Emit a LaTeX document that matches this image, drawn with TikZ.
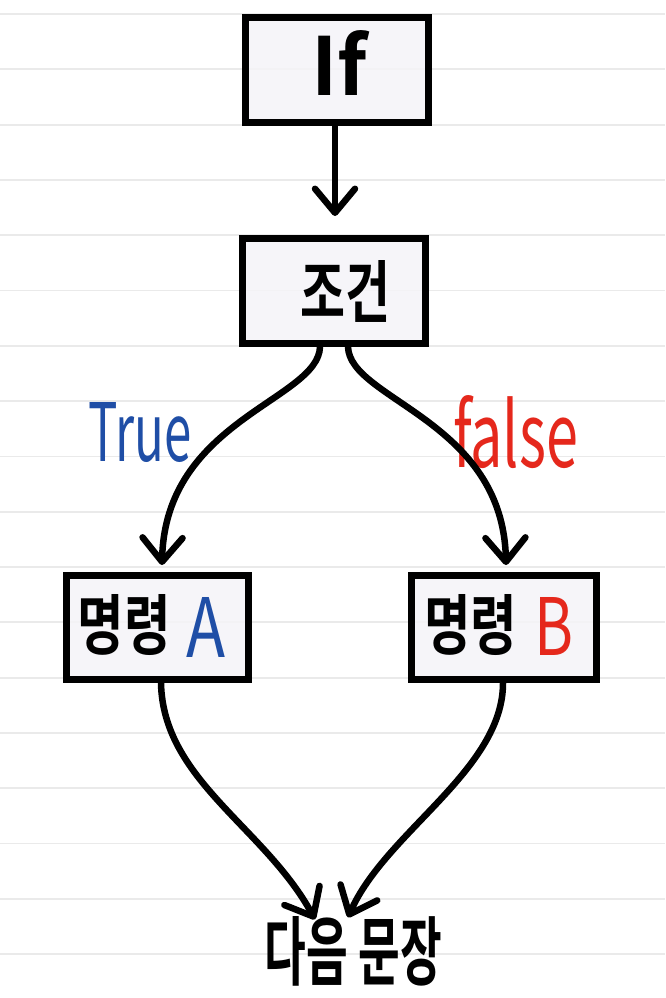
\documentclass[tikz,border=0pt]{standalone}
\usepackage{fontspec}
\usepackage{graphicx}
\usetikzlibrary{arrows.meta}
\newfontfamily\hf{Noto Sans CJK KR}[BoldFont=* Bold]
\definecolor{paperline}{HTML}{EAEAEA}
\definecolor{boxfill}{HTML}{F5F4F8}
\definecolor{penblue}{HTML}{1F4EA6}
\definecolor{penred}{HTML}{E5281C}
\newcommand{\fitbox}[3]{\resizebox{#1pt}{#2pt}{\hf\bfseries #3}}
\begin{document}
\begin{tikzpicture}[x=1pt,y=-1pt,
  stepbox/.style={draw=black,line width=7pt,fill=boxfill,fill opacity=0.85,draw opacity=1,rectangle,inner sep=0pt},
  label/.style={inner sep=0pt,anchor=center},
  flow/.style={line width=6.5pt,line cap=round,line join=round,
    -{Straight Barb[length=24pt,width=40pt,line width=6.5pt,round]}}]
\useasboundingbox (0,0) rectangle (665,998);
\fill[white] (0,0) rectangle (665,998);
% lined paper
\foreach \k in {0,...,17}{
  \draw[paperline,line width=1.8pt] (0,{14+55.3*\k}) -- (665,{14+55.3*\k});
}
% boxes
\node[stepbox,minimum width=183pt,minimum height=105pt] (ifbox) at (337,70) {};
\node[stepbox,minimum width=183pt,minimum height=105pt] (cond) at (334,291) {};
\node[stepbox,minimum width=182pt,minimum height=104pt] (cmdA) at (157.5,627.5) {};
\node[stepbox,minimum width=185pt,minimum height=104pt] (cmdB) at (504,627.5) {};
% texts
\node[label] (tif) at (339,62.5) {\fitbox{56}{65}{If}};
\node[label] (tcond) at (345,291.5) {\fitbox{90}{57}{조건}};
\node[label] (tcmdA) at (124.5,625.5) {\fitbox{93}{55}{명령}};
\node[label,text=penblue] (tA) at (206.5,627) {\resizebox{39pt}{60pt}{\hf A}};
\node[label] (tcmdB) at (470.5,625.5) {\fitbox{93}{55}{명령}};
\node[label,text=penred] (tB) at (554.5,626) {\resizebox{39pt}{58pt}{\hf B}};
\node[label,text=penblue] (ttrue) at (140.5,432.5) {\resizebox{103pt}{59pt}{\hf True}};
\node[label,text=penred] (tfalse) at (515.5,432.5) {\resizebox{125pt}{72pt}{\hf false}};
\node[label] (next) at (353.5,951.5) {\fitbox{177}{63}{다음 문장}};
% connectors
\draw[flow,shorten >=19pt] ([xshift=-2pt]ifbox.south) -- ([xshift=1pt]cond.north);
\draw[flow] ([xshift=-14pt]cond.south) .. controls +(-2,53) and +(3,-145) .. ([xshift=4.5pt,yshift=7pt]cmdA.north);
\draw[flow] ([xshift=14pt]cond.south) .. controls +(2,53) and +(-3,-145) .. ([xshift=2pt,yshift=7pt]cmdB.north);
\draw[flow] ([xshift=3.5pt]cmdA.south) .. controls +(2,97) and +(-50,-92) .. ([xshift=-38.5pt,yshift=-3pt]next.north);
\draw[flow] ([xshift=-1pt]cmdB.south) .. controls +(0,87) and +(37,-85) .. ([xshift=-5.5pt,yshift=-1pt]next.north);
\end{tikzpicture}
\end{document}
